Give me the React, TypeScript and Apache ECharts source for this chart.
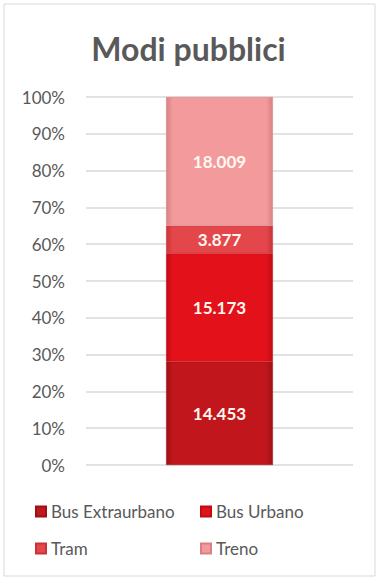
import React, { useEffect, useRef } from "react";
import * as echarts from "echarts";

const categories = ["Modi pubblici"];
const seriesNames = ["Bus Extraurbano", "Bus Urbano", "Tram", "Treno"];
const busExtraurbano = [14453];
const busUrbano = [15173];
const tram = [3877];
const treno = [18009];
const yTicks = [0, 10, 20, 30, 40, 50, 60, 70, 80, 90, 100];

const colors = ["#C0161C", "#E3111A", "#E4474B", "#F29A9C"];
const edgeColors = ["#9E1014", "#BE0C14", "#C83337", "#D98084"];

const fmt = (n: number) => String(n).replace(/\B(?=(\d{3})+(?!\d))/g, ".");

export default function App() {
  const ref = useRef<HTMLDivElement>(null);
  useEffect(() => {
    if (!ref.current) return;
    const chart = echarts.init(ref.current, undefined, { renderer: "svg" });
    const raw = [busExtraurbano, busUrbano, tram, treno];
    const totals = categories.map((_, i) => raw.reduce((s, a) => s + a[i], 0));
    const series = raw.map((arr, si) => ({
      name: seriesNames[si],
      type: "bar",
      stack: "total",
      barWidth: "40%",
      data: arr.map((v, i) => ({ value: (v / totals[i]) * 100, raw: v })),
      itemStyle: {
        color: new echarts.graphic.LinearGradient(0, 0, 1, 0, [
          { offset: 0, color: edgeColors[si] },
          { offset: 0.06, color: colors[si] },
          { offset: 0.94, color: colors[si] },
          { offset: 1, color: edgeColors[si] },
        ]),
        borderColor: edgeColors[si],
        borderWidth: 0.5,
      },
      label: {
        show: true,
        position: "inside",
        color: "#FFF8F0",
        fontFamily: "Lato",
        fontWeight: "bold",
        fontSize: 17,
        formatter: (p: any) => fmt(p.data.raw),
      },
    }));
    const legendPos = [
      { left: 35, top: 503 },
      { left: 200, top: 503 },
      { left: 35, top: 540 },
      { left: 200, top: 540 },
    ];
    chart.setOption({
      animation: false,
      color: colors,
      title: {
        text: "Modi pubblici",
        left: "center",
        top: 27,
        textStyle: { fontFamily: "Lato", fontWeight: "bold", fontSize: 32, color: "#595959" },
      },
      legend: seriesNames.map((n, i) => ({
        data: [n],
        left: legendPos[i].left,
        top: legendPos[i].top,
        itemWidth: 10,
        itemHeight: 10,
        itemGap: 0,
        icon: "rect",
        padding: 0,
        textStyle: { fontFamily: "Lato", fontSize: 17, color: "#595959" },
      })),
      grid: { left: 86, right: 24, top: 97, bottom: 113 },
      xAxis: {
        type: "category",
        data: categories,
        axisLine: { show: false },
        axisTick: { show: false },
        axisLabel: { show: false },
      },
      yAxis: {
        type: "value",
        min: yTicks[0],
        max: yTicks[yTicks.length - 1],
        interval: 10,
        axisLine: { show: false },
        axisTick: { show: false },
        axisLabel: {
          formatter: (v: number) => v + "%",
          fontFamily: "Lato",
          fontSize: 17,
          color: "#595959",
          margin: 21,
        },
        splitLine: { lineStyle: { color: "#D9D9D9", width: 1.5 } },
      },
      graphic: [
        {
          type: "rect",
          shape: { x: 4, y: 4, width: 371, height: 572 },
          style: { fill: "none", stroke: "#D9D9D9", lineWidth: 1 },
          silent: true,
        },
      ],
      series,
    });
    return () => chart.dispose();
  }, []);
  return (
    <div
      ref={ref}
      style={{ position: "absolute", left: 0, top: 0, width: 377, height: 578, background: "#fff" }}
    />
  );
}
